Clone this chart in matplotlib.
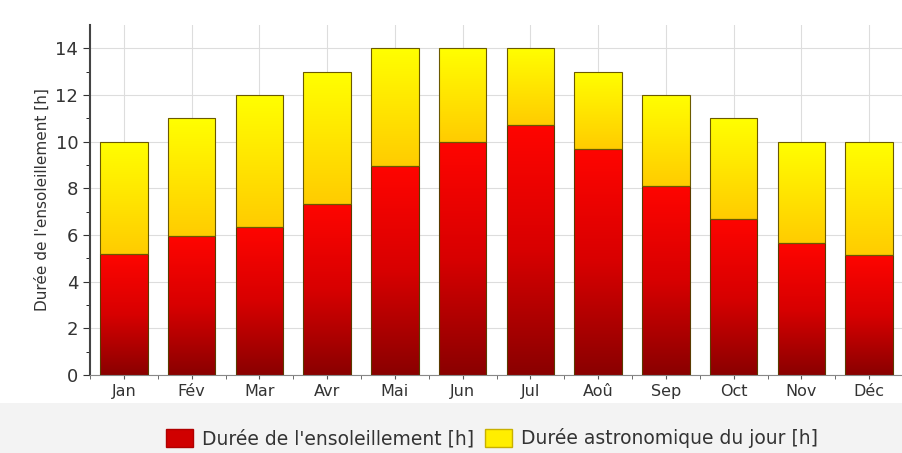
import matplotlib
matplotlib.use('Agg')
import matplotlib.pyplot as plt
import numpy as np
from matplotlib.colors import LinearSegmentedColormap
from matplotlib.patches import Patch, Rectangle

plt.rcParams['font.family'] = ['DejaVu Sans']

# données
mois = ['Jan', 'Fév', 'Mar', 'Avr', 'Mai', 'Jun', 'Jul', 'Aoû', 'Sep', 'Oct', 'Nov', 'Déc']
ensoleillement = [5.2, 5.95, 6.35, 7.35, 8.95, 10.0, 10.7, 9.7, 8.1, 6.7, 5.65, 5.15]
jour_astro = [10, 11, 12, 13, 14, 14, 14, 13, 12, 11, 10, 10]

cmap_rouge = LinearSegmentedColormap.from_list('rouge', [(0, '#8a0000'), (0.5, '#d80000'), (1, '#ff0500')])
cmap_jaune = LinearSegmentedColormap.from_list('jaune', ['#ffcc00', '#ffff00'])

fig = plt.figure(figsize=(9.03, 4.53), dpi=100)
fig.patches.append(Rectangle((0, 0), 1, 0.11, transform=fig.transFigure,
                             facecolor='#f3f3f3', edgecolor='none', zorder=-1))
ax = fig.add_axes([0.0997, 0.172, 0.9003, 0.773])

x = np.arange(len(mois))
largeur = 0.7
reste = [j - e for j, e in zip(jour_astro, ensoleillement)]

barres_r = ax.bar(x, ensoleillement, width=largeur, facecolor='none',
                  edgecolor='#5a3a00', linewidth=0.8, zorder=3)
barres_j = ax.bar(x, reste, width=largeur, bottom=ensoleillement, facecolor='none',
                  edgecolor='#6b5a00', linewidth=0.8, zorder=3)

# dégradé vertical dans chaque barre
grad = np.linspace(0, 1, 256).reshape(-1, 1)
for barres, cmap in [(barres_r, cmap_rouge), (barres_j, cmap_jaune)]:
    for b in barres:
        x0, y0 = b.get_x(), b.get_y()
        w, h = b.get_width(), b.get_height()
        im = ax.imshow(grad, cmap=cmap, origin='lower', aspect='auto',
                       extent=(x0, x0 + w, y0, y0 + h), zorder=2)
        im.set_clip_path(b)

ax.set_xlim(-0.47, 11.41)
ax.set_ylim(0, 15)
ax.set_xticks(x)
ax.set_xticklabels(mois, fontsize=11.5, color='#333333')
ax.set_xticks(np.arange(-0.5, 12, 1), minor=True)
ax.set_yticks(np.arange(0, 15, 2))
ax.set_yticks(np.arange(1, 15, 2), minor=True)
ax.tick_params(axis='y', labelsize=13, colors='#333333', length=5)
ax.tick_params(axis='y', which='minor', length=3)
ax.tick_params(axis='x', which='both', length=3, colors='#555555')
ax.tick_params(axis='x', labelcolor='#333333')
ax.set_ylabel("Durée de l'ensoleillement [h]", fontsize=11, color='#333333', labelpad=4)

ax.grid(True, color='#dddddd', linewidth=0.8, zorder=0)
ax.set_axisbelow(True)
for s in ['top', 'right']:
    ax.spines[s].set_visible(False)
ax.spines['left'].set_color('#444444')
ax.spines['bottom'].set_color('#888888')
ax.spines['left'].set_linewidth(1.5)

handles = [Patch(facecolor='#d00000', edgecolor='#b00000', label="Durée de l'ensoleillement [h]"),
           Patch(facecolor='#ffee00', edgecolor='#c8b000', label='Durée astronomique du jour [h]')]
fig.legend(handles=handles, loc='center', bbox_to_anchor=(0.545, 0.033), ncol=2,
           frameon=False, fontsize=13.5, handlelength=1.4, handleheight=1.1,
           columnspacing=0.6, handletextpad=0.5, labelcolor='#333333')

plt.savefig('out.png', dpi=100)
